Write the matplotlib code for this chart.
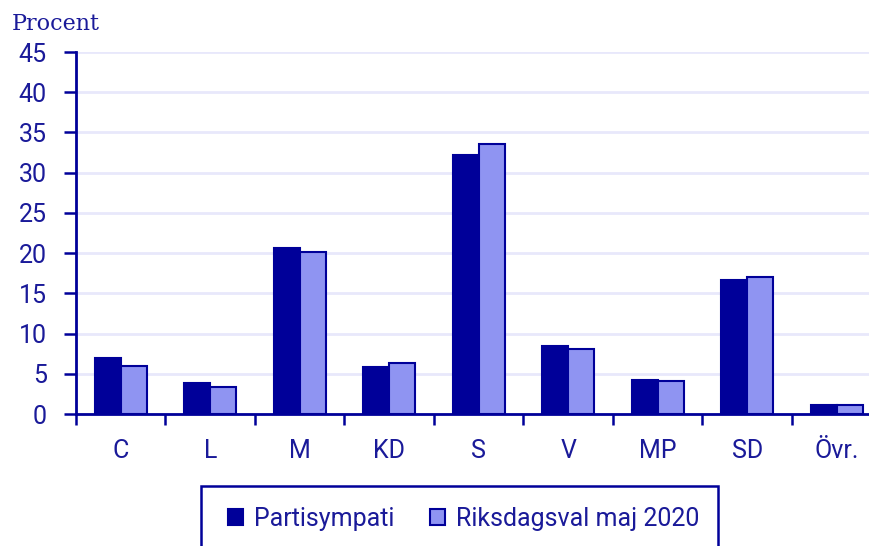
import numpy as np
import matplotlib.pyplot as plt
from matplotlib.patches import Rectangle

parties = ["C", "L", "M", "KD", "S", "V", "MP", "SD", "Övr."]
partisympati = [6.9, 3.9, 20.6, 5.8, 32.2, 8.4, 4.2, 16.7, 1.1]
riksdagsval = [6.0, 3.3, 20.1, 6.4, 33.6, 8.1, 4.1, 17.0, 1.1]
series_names = ["Partisympati", "Riksdagsval maj 2020"]

dark = "#000099"
light = "#8f94f2"
txt = "#1a1a99"
W, H = 870, 546

fig = plt.figure(figsize=(W / 100, H / 100), dpi=100)
ax = fig.add_axes([76 / W, 132 / H, (9 * 89.5) / W, 362 / H])

x = np.arange(len(parties))
w = 0.29
b1 = ax.bar(x - w / 2, partisympati, w, color=dark, edgecolor=dark, linewidth=1.5, zorder=3)
b2 = ax.bar(x + w / 2, riksdagsval, w, color=light, edgecolor=dark, linewidth=1.5, zorder=3)

ax.set_xlim(-0.5, len(parties) - 0.5)
ax.set_ylim(0, 45)
ax.set_yticks(np.arange(0, 46, 5))
ax.grid(axis="y", color="#e8e8fb", linewidth=2, zorder=0)

# category boundaries as major ticks, labels at centers
ax.set_xticks(np.arange(-0.5, len(parties), 1.0))
ax.set_xticklabels([])
ax.set_xticks(x, minor=True)
ax.set_xticklabels(parties, minor=True)
ax.tick_params(axis="x", which="major", length=8, width=1.8, color=dark, direction="out")
ax.tick_params(axis="x", which="minor", length=0, pad=18, labelsize=18, labelcolor=txt)
ax.tick_params(axis="y", length=9, width=1.8, color=dark, labelsize=18, labelcolor=txt, pad=12)
for lab in ax.get_xticklabels(minor=True) + ax.get_yticklabels():
    lab.set_family("Roboto")

for s in ["top", "right"]:
    ax.spines[s].set_visible(False)
ax.spines["left"].set_color(dark)
ax.spines["left"].set_linewidth(2)
ax.spines["bottom"].set_color(dark)
ax.spines["bottom"].set_linewidth(2)
ax.spines["bottom"].set_zorder(4)

fig.text(12 / W, 1 - 30 / H, "Procent", family="DejaVu Serif", fontsize=16,
         color=txt, va="baseline", ha="left")

# legend box
fig.patches.append(Rectangle((201 / W, -0.05), (718 - 201) / W, 1 - 486 / H + 0.05,
                             transform=fig.transFigure, fill=False, edgecolor=dark,
                             linewidth=1.8))
leg = fig.legend([b1, b2], series_names, loc="center left",
                 bbox_to_anchor=(228 / W, 1 - 519 / H), ncol=2, frameon=False,
                 borderpad=0, borderaxespad=0,
                 handlelength=0.6, handleheight=0.6, handletextpad=0.45,
                 columnspacing=1.4, prop={"family": "Roboto", "size": 18})
for t in leg.get_texts():
    t.set_color(txt)

fig.savefig("out.png", dpi=100)
